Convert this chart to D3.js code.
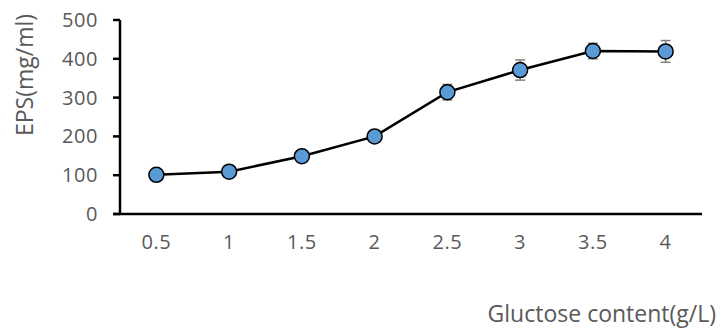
<!DOCTYPE html>
<html><head><meta charset="utf-8">
<script src="https://cdn.jsdelivr.net/npm/d3@7"></script>
<style>body{margin:0;background:#fff}svg{display:block}text{font-family:"Open Sans",sans-serif;fill:#595959}</style>
</head><body><svg id="c" width="721" height="329"></svg>
<script>
const categories = ["0.5","1","1.5","2","2.5","3","3.5","4"];
const values = [101, 109, 149, 200, 314, 371, 420, 419];
const errors = [0, 0, 0, 3, 20, 26, 20, 28];
const yTicks = [0,100,200,300,400,500];

const svg = d3.select("#c");
const mLeft = 120, mRight = 702, mTop = 20, mBottom = 214;
const x = d3.scalePoint().domain(categories).range([mLeft, mRight]).padding(0.5);
const y = d3.scaleLinear().domain([0,500]).range([mBottom, mTop]);

// y axis
svg.append("line").attr("x1",mLeft).attr("x2",mLeft).attr("y1",mTop).attr("y2",mBottom).attr("stroke","#000").attr("stroke-width",2.5);
yTicks.forEach(t=>{
  svg.append("line").attr("x1",mLeft-7).attr("x2",mLeft).attr("y1",y(t)).attr("y2",y(t)).attr("stroke","#000").attr("stroke-width",2.5);
  svg.append("text").attr("x",98).attr("y",y(t)+7).attr("text-anchor","end").attr("font-size",20).attr("letter-spacing","0.6px").text(t);
});
// x axis
svg.append("line").attr("x1",mLeft-7).attr("x2",mRight).attr("y1",mBottom).attr("y2",mBottom).attr("stroke","#000").attr("stroke-width",2.5);
categories.forEach(c=>{
  svg.append("text").attr("x",x(c)).attr("y",249).attr("text-anchor","middle").attr("font-size",20).attr("letter-spacing","0.6px").text(c);
});
// titles
svg.append("text").attr("transform","translate(33,75) rotate(-90)").attr("text-anchor","middle").attr("font-size",23).text("EPS(mg/ml)");
svg.append("text").attr("x",716).attr("y",322).attr("text-anchor","end").attr("font-size",23).text("Gluctose content(g/L)");

// error bars
categories.forEach((c,i)=>{
  if(!errors[i]) return;
  const g = svg.append("g").attr("stroke","#7f7f7f").attr("stroke-width",1.5);
  const cx = x(c);
  g.append("line").attr("x1",cx).attr("x2",cx).attr("y1",y(values[i]+errors[i])).attr("y2",y(values[i]-errors[i]));
  [values[i]+errors[i], values[i]-errors[i]].forEach(v=>g.append("line").attr("x1",cx-5).attr("x2",cx+5).attr("y1",y(v)).attr("y2",y(v)));
});
// line
svg.append("path").datum(values).attr("fill","none").attr("stroke","#000").attr("stroke-width",2.5)
  .attr("d", d3.line().x((d,i)=>x(categories[i])).y(d=>y(d)));
// markers
svg.selectAll("circle.m").data(values).enter().append("circle")
  .attr("cx",(d,i)=>x(categories[i])).attr("cy",d=>y(d)).attr("r",7.5)
  .attr("fill","#5B9BD5").attr("stroke","#000").attr("stroke-width",1.5);
</script></body></html>
